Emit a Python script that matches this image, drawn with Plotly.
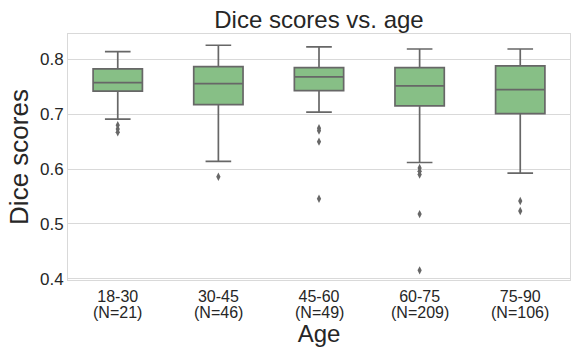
import plotly.graph_objects as go

age_groups = ["18-30", "30-45", "45-60", "60-75", "75-90"]
group_sizes = ["(N=21)", "(N=46)", "(N=49)", "(N=209)", "(N=106)"]
q1 = [0.742, 0.7175, 0.743, 0.715, 0.701]
median = [0.7575, 0.7557, 0.7678, 0.7515, 0.7447]
q3 = [0.7824, 0.7865, 0.7848, 0.7848, 0.7878]
lower_whisker = [0.691, 0.6142, 0.7036, 0.612, 0.5927]
upper_whisker = [0.8138, 0.8255, 0.8224, 0.8187, 0.8187]
outliers = [
    [0.680, 0.673, 0.667],
    [0.586],
    [0.6745, 0.670, 0.650, 0.546],
    [0.602, 0.596, 0.590, 0.518, 0.4156],
    [0.542, 0.5236],
]

FILL = "#87bf86"
LINE = "#676767"
TEXT = "#262626"

fig = go.Figure()
fig.add_trace(go.Box(
    x=age_groups, q1=q1, median=median, q3=q3,
    lowerfence=lower_whisker, upperfence=upper_whisker,
    fillcolor=FILL, line=dict(color=LINE, width=1.7),
    width=0.49, whiskerwidth=0.52, boxpoints=False, showlegend=False,
))
ox, oy = [], []
for c, vals in zip(age_groups, outliers):
    for v in vals:
        ox.append(c)
        oy.append(v)
fig.add_trace(go.Scatter(
    x=ox, y=oy, mode="markers",
    marker=dict(symbol="diamond-tall", size=6, color=LINE),
    showlegend=False, hoverinfo="y",
))

for c, n in zip(age_groups, group_sizes):
    fig.add_annotation(x=c, xref="x", y=0, yref="paper", yanchor="top",
                       yshift=-22, text=n, showarrow=False,
                       font=dict(size=16, color=TEXT))

fig.update_layout(
    width=581, height=363,
    margin=dict(l=68, r=11, t=34, b=83, autoexpand=False),
    paper_bgcolor="white", plot_bgcolor="white",
    font=dict(family="Liberation Sans, Arial, sans-serif", color=TEXT),
    title=dict(text="Dice scores vs. age", x=319 / 581, xanchor="center",
               y=1 - 20 / 363, yanchor="middle", font=dict(size=24, color=TEXT)),
)
fig.update_xaxes(
    type="category", showgrid=False, showline=True, mirror=True, automargin=False,
    linecolor="#d9d9d9", linewidth=1, ticks="", tickfont=dict(size=16, color=TEXT),
    ticklabelstandoff=2,
    title=dict(text="Age", font=dict(size=24, color=TEXT), standoff=20),
)
fig.update_yaxes(
    range=[0.398, 0.846], tickvals=[0.4, 0.5, 0.6, 0.7, 0.8],
    ticktext=["0.4", "0.5", "0.6", "0.7", "0.8"], automargin=False,
    showgrid=True, gridcolor="#d9d9d9", gridwidth=1, zeroline=False,
    showline=True, mirror=True, linecolor="#d9d9d9", linewidth=1, ticks="",
    tickfont=dict(size=17, color=TEXT),
    title=dict(text="Dice scores", font=dict(size=26, color=TEXT), standoff=3),
)

fig.write_html("out.html", config={"displayModeBar": False},
               post_script="document.body.style.margin='0';")
